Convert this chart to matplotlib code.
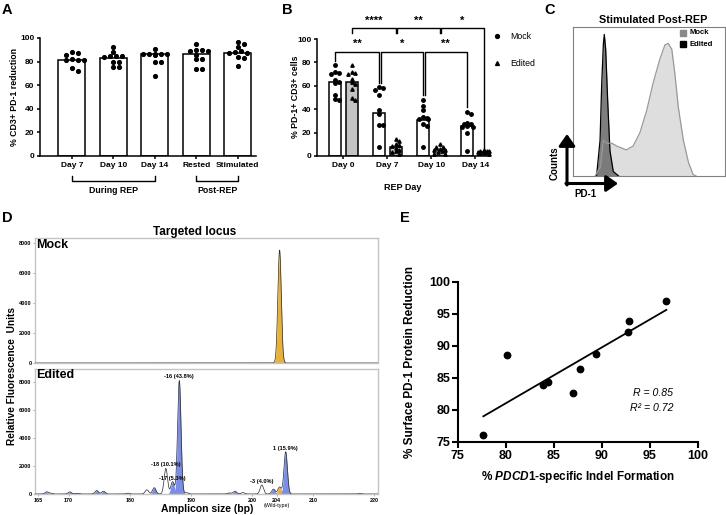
import numpy as np
import matplotlib
matplotlib.use("Agg")
import matplotlib.pyplot as plt
from matplotlib.patches import Rectangle, FancyArrowPatch

plt.rcParams['font.family'] = ['Liberation Sans', 'DejaVu Sans']
plt.rcParams['mathtext.fontset'] = 'custom'
plt.rcParams['mathtext.it'] = 'Liberation Sans:italic:bold'
plt.rcParams['mathtext.rm'] = 'Liberation Sans:bold'
plt.rcParams['mathtext.bf'] = 'Liberation Sans:bold'

# ---------------- Panel A data ----------------
a_labels = ["Day 7", "Day 10", "Day 14", "Rested", "Stimulated"]
a_bars = [81.4, 82.8, 86.4, 86.4, 87.5]
a_day7 = [88.4, 87.6, 85.6, 82.5, 81.4, 81.1, 81.0, 74.8, 72.0]
a_day10 = [92.6, 88.0, 85.0, 85.0, 85.0, 83.5, 79.5, 79.5, 75.5, 75.5]
a_day14 = [90.4, 86.6, 86.5, 86.4, 86.3, 86.2, 86.0, 80.0, 80.0, 68.0]
a_rested = [95.0, 89.5, 89.5, 89.3, 88.8, 86.0, 82.0, 82.0, 73.5, 73.5]
a_stim = [97.0, 94.5, 92.0, 89.0, 88.0, 87.5, 87.0, 84.0, 83.0, 76.5]
a_groups = ["During REP", "Post-REP"]

# ---------------- Panel B data ----------------
b_days = ["Day 0", "Day 7", "Day 10", "Day 14"]
b_series = ["Mock", "Edited"]
b_mock_bars = [63.0, 36.5, 31.0, 26.0]
b_edited_bars = [63.5, 8.0, 5.0, 3.5]
b_mock_d0 = [77.5, 72.0, 71.0, 70.5, 65.0, 63.5, 62.0, 52.0, 49.0, 47.5]
b_mock_d7 = [58.7, 57.9, 56.4, 52.1, 39.3, 35.5, 26.5, 26.5, 8.0]
b_mock_d10 = [48.0, 43.0, 39.5, 33.0, 32.5, 32.0, 31.5, 27.0, 26.0, 7.5]
b_mock_d14 = [38.0, 36.0, 28.5, 27.5, 27.0, 26.0, 25.0, 24.5, 20.0, 4.0]
b_edit_d0 = [77.5, 72.0, 71.0, 70.0, 66.0, 63.0, 61.5, 57.0, 50.0, 47.5]
b_edit_d7 = [14.5, 13.0, 10.0, 9.0, 8.5, 7.0, 5.5, 4.0, 3.0, 2.0]
b_edit_d10 = [10.0, 8.0, 7.5, 6.0, 5.5, 5.0, 4.0, 3.0, 2.0, 1.5]
b_edit_d14 = [5.0, 4.5, 4.0, 4.0, 3.5, 3.5, 3.0, 3.0, 2.5, 2.0]
b_comparisons = [(0, 1, "Mock", "**"), (1, 2, "Mock", "*"), (2, 3, "Mock", "**"),
                 (0, 1, "Edited", "****"), (1, 2, "Edited", "**"), (2, 3, "Edited", "*")]

# ---------------- Panel C data (histogram outlines) ----------------
c_mock_x = [14.5, 18, 20, 22, 25.5, 29, 35, 39.5, 44, 48.5, 52.6, 57, 60.5, 62.7, 65, 67, 69.3, 72.6, 76, 79, 81]
c_mock_y = [0, 6, 24, 22, 22, 20, 17.5, 20, 29, 44, 62, 78, 88, 89, 85, 69, 46, 24, 9, 1, 0]
c_edit_x = [15.5, 17.8, 18.9, 20, 20.6, 21.5, 22.8, 24.3, 26.5, 30]
c_edit_y = [0, 24, 62, 89, 95, 85, 51, 17, 3, 0]

# ---------------- Panel D data (fragment peaks) ----------------
d_mock_bp = [204.5]
d_mock_rfu = [7500]
d_mock_kind = ["o"]
d_edit_bp = [166.4, 167.0, 170.2, 171.4, 174.6, 175.7, 179.7, 182.8, 184.0, 185.9, 187.0,
             188.1, 189.3, 196.3, 197.2, 198.5, 201.6, 203.5, 204.5, 205.5, 217.5]
d_edit_rfu = [150, 60, 150, 50, 250, 200, 60, 300, 450, 1830, 880,
              8100, 100, 80, 200, 100, 640, 350, 500, 3020, 30]
d_edit_kind = ["b", "b", "b", "w", "b", "b", "w", "w", "b", "w", "b",
               "b", "w", "b", "b", "w", "w", "b", "o", "b", "w"]
d_label_text = ["-18 (10.1%)", "-17 (5.3%)", "-16 (43.8%)", "-3 (4.0%)", "1 (15.9%)"]
d_label_bp = [185.9, 187.0, 188.1, 201.6, 205.5]
d_label_rfu = [1830, 880, 8100, 640, 3020]
d_xticks = [165, 170, 180, 190, 200, 204, 210, 220]

# ---------------- Panel E data ----------------
e_indel = [77.67, 80.09, 83.9, 84.42, 87.02, 87.74, 89.44, 92.8, 92.76, 96.71]
e_reduction = [76.09, 88.59, 83.87, 84.28, 82.57, 86.46, 88.74, 93.88, 92.12, 97.04]

W, H = 726, 515
fig = plt.figure(figsize=(W / 100, H / 100), dpi=100)


def box(l, t, r, b):
    return fig.add_axes([l / W, 1 - b / H, (r - l) / W, (b - t) / H])


def fpt(x, y):
    return (x / W, 1 - y / H)


def ftext(x, y, s, **kw):
    return fig.text(x / W, 1 - y / H, s, **kw)


def swarm(vals, sx, sy, dx, dy, maxoff):
    """Beeswarm offsets (in x data units) kept within +/- maxoff pixels."""
    vals = np.asarray(vals, float)
    order = np.argsort(-vals, kind="stable")
    placed = []
    offs = np.zeros(len(vals))
    step = dx / 2.0
    n = int(maxoff / step)
    cands = [0.0]
    for k in range(1, n + 1):
        cands += [k * step, -k * step]
    for i in order:
        y = vals[i] * sy
        best, bestpen = 0.0, None
        for c in cands:
            pen = sum(max(0.0, 1 - (((c - px) / dx) ** 2 + ((y - py) / dy) ** 2)) for px, py in placed)
            if bestpen is None or pen < bestpen - 1e-9:
                best, bestpen = c, pen
            if pen == 0:
                break
        placed.append((best, y))
        offs[i] = best / sx
    return offs


def prism(ax, fs, lw=1.1, tl=2.5):
    for s in ("top", "right"):
        ax.spines[s].set_visible(False)
    for s in ("left", "bottom"):
        ax.spines[s].set_linewidth(lw)
    ax.tick_params(labelsize=fs, width=lw, length=tl, pad=1.5)
    for lab in ax.get_xticklabels() + ax.get_yticklabels():
        lab.set_fontweight("bold")


# ======================= Panel A =======================
axA = box(40, 38, 256, 156)
xa = np.arange(len(a_labels))
axA.bar(xa, a_bars, width=0.65, color="white", edgecolor="black", linewidth=1.1, zorder=1)
for i, pts in enumerate([a_day7, a_day10, a_day14, a_rested, a_stim]):
    off = swarm(pts, 41.3, 1.18, 6.0, 4.0, 12.5)
    axA.plot(xa[i] + off, pts, "o", ms=2.7, color="black", zorder=3, clip_on=False)
axA.set_xlim(-0.77, 4.44)
axA.set_ylim(0, 100)
axA.set_yticks(range(0, 101, 20))
axA.set_xticks(xa)
axA.set_xticklabels(a_labels)
prism(axA, 6)
trA = axA.get_xaxis_transform()
for (x0, x1), g in zip([(0, 2), (3, 4)], a_groups):
    axA.plot([x0, x0, x1, x1], [-0.169, -0.212, -0.212, -0.169], transform=trA,
             clip_on=False, color="black", lw=1.0)
    axA.text((x0 + x1) / 2, -0.29, g, transform=trA, ha="center", va="center",
             fontsize=6.3, fontweight="bold")
ftext(15, 97, "% CD3+ PD-1 reduction", rotation=90, ha="center", va="center",
      fontsize=6.3, fontweight="bold")

# ======================= Panel B =======================
axB = box(317, 39, 490, 156)
xb = np.arange(len(b_days))
boff, bw = 0.19, 0.27
axB.bar(xb - boff, b_mock_bars, width=bw, color="white", edgecolor="black", linewidth=1.1, zorder=1)
axB.bar(xb + boff, b_edited_bars, width=bw, color="#c4c4c4", edgecolor="black", linewidth=1.1, zorder=1)
mock_pts = [b_mock_d0, b_mock_d7, b_mock_d10, b_mock_d14]
edit_pts = [b_edit_d0, b_edit_d7, b_edit_d10, b_edit_d14]
for i in range(4):
    off = swarm(mock_pts[i], 44, 1.17, 3.6, 3.4, 5.4)
    axB.plot(xb[i] - boff + off, mock_pts[i], "o", ms=2.5, color="black", zorder=3, clip_on=False)
    off = swarm(edit_pts[i], 44, 1.17, 3.6, 3.4, 5.4)
    axB.plot(xb[i] + boff + off, edit_pts[i], "^", ms=2.4, color="black", zorder=3, clip_on=False)
axB.set_xlim(-0.6, 3.33)
axB.set_ylim(0, 100)
axB.set_yticks(range(0, 101, 20))
axB.set_xticks(xb)
axB.set_xticklabels(b_days)
prism(axB, 6)
axB.text(1.35, -0.265, "REP Day", transform=axB.get_xaxis_transform(), ha="center",
         va="center", fontsize=6.5, fontweight="bold")
ftext(295, 97, "% PD-1+ CD3+ cells", rotation=90, ha="center", va="center",
      fontsize=6.3, fontweight="bold")

lower_y, upper_y = 89.2, 109.1
gap = 0.035
lower_spans = []
for a, b, ser, lab in b_comparisons:
    if ser == "Mock":
        l0 = xb[a] - boff + (gap if a > 0 else 0)
        r0 = xb[b] - boff
        y = lower_y
        ya = max(mock_pts[a]) + 4
        yb = max(mock_pts[b]) + 4
        lower_spans.append((l0, r0))
        axB.plot([l0, l0, r0, r0], [ya, y, y, yb], color="black", lw=1.0, clip_on=False)
        axB.text((l0 + r0) / 2, y + 2.5, lab, ha="center", va="bottom", fontsize=8,
                 fontweight="bold")
for a, b, ser, lab in b_comparisons:
    if ser == "Edited":
        l0 = xb[a] + boff + (gap if a > 0 else 0)
        r0 = xb[b] + boff
        y = upper_y
        legs = []
        for xx, pts in ((l0, edit_pts[a]), (r0, edit_pts[b])):
            inside = any(s0 <= xx <= s1 for s0, s1 in lower_spans)
            legs.append(104.8 if inside else max(pts) + 2)
        axB.plot([l0, l0, r0, r0], [legs[0], y, y, legs[1]], color="black", lw=1.0, clip_on=False)
        axB.text((l0 + r0) / 2, y + 2.5, lab, ha="center", va="bottom", fontsize=8,
                 fontweight="bold")
for (yy, mk, nm) in ((36, "o", b_series[0]), (63, "^", b_series[1])):
    fig.lines.append(plt.Line2D([497 / W], [1 - yy / H], marker=mk, ms=2.8, color="black",
                                linestyle="none", transform=fig.transFigure))
    ftext(510, yy, nm, ha="left", va="center", fontsize=6.3)

# ======================= Panel C =======================
axC = box(573, 27, 725, 176)
axC.fill_between(c_mock_x, c_mock_y, color="#dedede", lw=0, zorder=1)
axC.fill_between(c_edit_x, c_edit_y, color="#707070", lw=0, alpha=0.9, zorder=2)
axC.plot(c_edit_x, c_edit_y, color="black", lw=0.9, zorder=3)
axC.plot(c_mock_x, c_mock_y, color="#999999", lw=0.9, zorder=4)
axC.set_xlim(0, 100)
axC.set_ylim(0, 100)
axC.set_xticks([])
axC.set_yticks([])
for s in axC.spines.values():
    s.set_color("#808080")
    s.set_linewidth(0.8)
ftext(653, 20, "Stimulated Post-REP", ha="center", va="center", fontsize=7.8, fontweight="bold")
for (yy, col, nm) in ((33, "#8a8a8a", "Mock"), (44, "black", "Edited")):
    fig.patches.append(Rectangle(fpt(680, yy + 3), 6 / W, 6 / H, color=col,
                                 transform=fig.transFigure))
    ftext(690, yy, nm, ha="left", va="center", fontsize=5.5, fontweight="bold")
fig.patches.append(FancyArrowPatch(fpt(567, 185), fpt(567, 134), transform=fig.transFigure,
                                   arrowstyle="-|>,head_length=0.5,head_width=0.35",
                                   mutation_scale=14, lw=2.2, color="black",
                                   shrinkA=0, shrinkB=0))
fig.patches.append(FancyArrowPatch(fpt(565.9, 183.5), fpt(618, 183.5), transform=fig.transFigure,
                                   arrowstyle="-|>,head_length=0.5,head_width=0.35",
                                   mutation_scale=14, lw=2.2, color="black",
                                   shrinkA=0, shrinkB=0))
ftext(555, 163, "Counts", rotation=90, ha="center", va="center", fontsize=7, fontweight="bold")
ftext(585, 194, "PD-1", ha="center", va="center", fontsize=7, fontweight="bold")

# ======================= Panel D =======================
axD1 = box(35, 238, 378, 363)
axD2 = box(35, 369, 378, 494)
xg = np.linspace(164.5, 220.6, 5000)
sig = 0.28
colmap = {"b": "#7b8de6", "o": "#e8b23a", "w": None}


def draw_trace(ax, bps, rfus, kinds):
    total = np.zeros_like(xg)
    for c, h, k in zip(bps, rfus, kinds):
        yv = h * np.exp(-0.5 * ((xg - c) / sig) ** 2)
        total += yv
        if colmap[k] is not None:
            ax.fill_between(xg, yv, color=colmap[k], lw=0, zorder=2)
    ax.plot(xg, total, color="#2a2a2a", lw=0.5, zorder=3)


draw_trace(axD1, d_mock_bp, d_mock_rfu, d_mock_kind)
draw_trace(axD2, d_edit_bp, d_edit_rfu, d_edit_kind)
for ax, top in ((axD1, 8300), (axD2, 8930)):
    ax.set_xlim(164.5, 220.6)
    ax.set_ylim(0, top)
    ax.set_yticks(range(0, 8001, 2000))
    for s in ax.spines.values():
        s.set_color("#c4c4c4")
        s.set_linewidth(1.0)
    ax.tick_params(axis="y", labelsize=4, length=1.5, width=0.5, pad=1, color="#888888")
    for lab in ax.get_yticklabels():
        lab.set_fontweight("bold")
axD1.set_xticks([])
axD2.set_xticks(d_xticks)
axD2.set_xticklabels([str(t) for t in d_xticks])
axD2.tick_params(axis="x", labelsize=3.9, length=1.5, width=0.5, pad=1.2, color="#888888")
for lab in axD2.get_xticklabels():
    lab.set_fontweight("bold")
axD2.text(204, -0.096, "(Wild-type)", transform=axD2.get_xaxis_transform(), ha="center",
          va="center", fontsize=3.9)
for t, bp, h in zip(d_label_text, d_label_bp, d_label_rfu):
    axD2.text(bp, h + 80, t, ha="center", va="bottom", fontsize=4.1, fontweight="bold", zorder=5)
axD1.text(0.003, 0.94, "Mock", transform=axD1.transAxes, ha="left", va="center",
          fontsize=9, fontweight="bold")
axD2.text(0.003, 0.95, "Edited", transform=axD2.transAxes, ha="left", va="center",
          fontsize=9, fontweight="bold")
ftext(195, 232, "Targeted locus", ha="center", va="center", fontsize=8.5, fontweight="bold")
ftext(207, 509, "Amplicon size (bp)", ha="center", va="center", fontsize=7.5, fontweight="bold")
ftext(12, 376, "Relative Fluorescence  Units", rotation=90, ha="center", va="center",
      fontsize=7.3, fontweight="bold")

# ======================= Panel E =======================
axE = box(457.7, 281.7, 698, 442)
axE.plot(e_indel, e_reduction, "o", ms=4.6, color="black", zorder=3, clip_on=False)
slope, icpt = np.polyfit(e_indel, e_reduction, 1)
xs = np.array([min(e_indel), max(e_indel)])
axE.plot(xs, slope * xs + icpt, color="black", lw=1.3, zorder=2)
axE.set_xlim(75, 100)
axE.set_ylim(75, 100)
axE.set_xticks(range(75, 101, 5))
axE.set_yticks(range(75, 101, 5))
prism(axE, 9, lw=1.5, tl=4)
r = np.corrcoef(e_indel, e_reduction)[0, 1]
ftext(653, 393, f"R = {r:.2f}", ha="center", va="center", fontsize=7.6, style="italic")
ftext(652, 408, f"R\u00b2 = {r * r:.2f}", ha="center", va="center", fontsize=7.6, style="italic")
ftext(578, 477, r"% $\mathit{PDCD1}$-specific Indel Formation", ha="center", va="center",
      fontsize=8.5, fontweight="bold")
ftext(410, 362, "% Surface PD-1 Protein Reduction", rotation=90, ha="center", va="center",
      fontsize=8.5, fontweight="bold")

# ---------------- panel letters ----------------
for (x, y, L) in ((7, 10, "A"), (287, 10, "B"), (550, 10, "C"), (7, 218, "D"), (405, 218, "E")):
    ftext(x, y, L, ha="center", va="center", fontsize=10.5, fontweight="bold")

fig.savefig("out.png", dpi=100)
